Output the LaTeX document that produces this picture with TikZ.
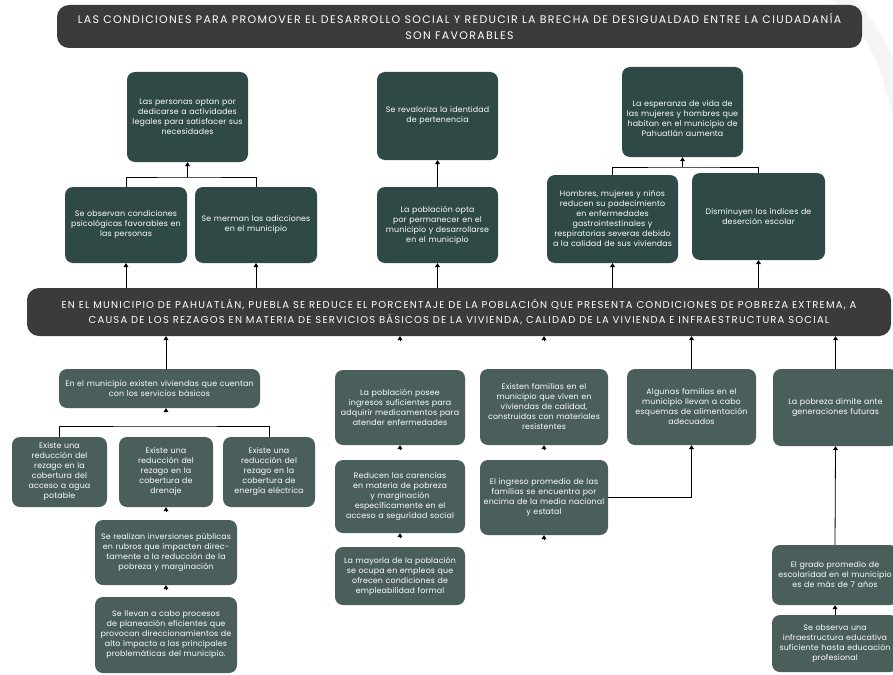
\documentclass[tikz,border=0pt]{standalone}
\usepackage{fontspec}
\setmainfont{Poppins}
\newfontfamily\banfont[LetterSpace=12]{Poppins}
\newfontfamily\boxfont[LetterSpace=1.5]{Poppins}
\usetikzlibrary{arrows.meta}
\definecolor{topteal}{HTML}{2E4946}
\definecolor{botteal}{HTML}{4A5E5C}
\definecolor{bancol}{HTML}{3A3B3A}
\tikzset{
  tb/.style={fill=topteal, rounded corners=8pt, text=white, align=center, inner xsep=1pt, inner ysep=3pt,
    font=\boxfont\fontsize{7.9}{10}\selectfont},
  bb/.style={tb, fill=botteal},
  ban/.style={fill=bancol, rounded corners=12pt, text=white, align=center, inner sep=0pt},
  arr/.style={draw=black, line width=0.8pt, -{Triangle[width=5pt,length=4pt]}},
  conn/.style={draw=black, line width=0.8pt},
}
\begin{document}
\begin{tikzpicture}[x=1pt,y=-1pt]
\useasboundingbox (0,0) rectangle (893,674);
\clip (0,0) rectangle (893,674);
\fill[white] (0,0) rectangle (893,674);
\draw[line width=16pt, black!4] (830,-12) .. controls (872,22) and (890,60) .. (902,125);

% banners
\node[ban, minimum width=805pt, minimum height=43pt, font=\banfont\fontsize{11}{16}\selectfont] (goal) at (459.5,26.5)
 {LAS CONDICIONES PARA PROMOVER EL DESARROLLO SOCIAL Y REDUCIR LA BRECHA DE DESIGUALDAD ENTRE LA CIUDADANÍA\\SON FAVORABLES};
\node[ban, minimum width=864pt, minimum height=48pt, font=\banfont\fontsize{10}{15.5}\selectfont] (banner) at (459,312)
 {EN EL MUNICIPIO DE PAHUATLÁN, PUEBLA SE REDUCE EL PORCENTAJE DE LA POBLACIÓN QUE PRESENTA CONDICIONES DE POBREZA EXTREMA, A\\CAUSA DE LOS REZAGOS EN MATERIA DE SERVICIOS BÁSICOS DE LA VIVIENDA, CALIDAD DE LA VIVIENDA E INFRAESTRUCTURA SOCIAL};

% top boxes
\node[tb, minimum width=121pt, minimum height=90pt, text width=119pt] (A1) at (187.5,117)
 {Las personas optan por\\dedicarse a actividades\\legales para satisfacer sus\\necesidades};
\node[tb, minimum width=122pt, minimum height=76pt, text width=120pt] (A2) at (126,225)
 {Se observan condiciones\\psicológicas favorables en\\las personas};
\node[tb, minimum width=122pt, minimum height=76pt, text width=120pt] (A3) at (256,225)
 {Se merman las adicciones\\en el municipio};
\node[tb, minimum width=121pt, minimum height=88pt, text width=119pt] (B1) at (437.5,116)
 {Se revaloriza la identidad\\de pertenencia};
\node[tb, minimum width=121pt, minimum height=76pt, text width=119pt] (B2) at (437.5,225)
 {La población opta\\por permanecer en el\\municipio y desarrollarse\\en el municipio};
\node[tb, minimum width=121pt, minimum height=90pt, text width=119pt] (C1) at (682.5,112)
 {\rule{0pt}{19pt}La esperanza de vida de\\las mujeres y hombres que\\habitan en el municipio de\\Pahuatlán aumenta};
\node[tb, minimum width=131pt, minimum height=88pt, text width=129pt] (C2) at (612.5,219)
 {Hombres, mujeres y niños\\reducen su padecimiento\\en enfermedades\\gastrointestinales y\\respiratorias severas debido\\a la calidad de sus viviendas};
\node[tb, minimum width=133pt, minimum height=87pt, text width=131pt] (C3) at (758.5,216.5)
 {Disminuyen los índices de\\deserción escolar};

% bottom boxes
\node[bb, minimum width=201pt, minimum height=39pt, text width=199pt] (D1) at (159.5,388.5)
 {En el municipio existen viviendas que cuentan\\con los servicios básicos};
\node[bb, minimum width=95pt, minimum height=70pt, text width=93pt] (D2) at (59.5,472)
 {Existe una\\reducción del\\rezago en la\\cobertura del\\acceso a agua\\potable};
\node[bb, minimum width=94pt, minimum height=70pt, text width=92pt] (D3) at (166,472)
 {Existe una\\reducción del\\rezago en la\\cobertura de\\drenaje};
\node[bb, minimum width=92pt, minimum height=70pt, text width=90pt] (D4) at (269,472)
 {Existe una\\reducción del\\rezago en la\\cobertura de\\energía eléctrica};
\node[bb, minimum width=142pt, minimum height=65pt, text width=140pt] (D5) at (166,552.5)
 {Se realizan inversiones públicas\\en rubros que impacten direc-\\tamente a la reducción de la\\pobreza y marginación};
\node[bb, minimum width=142pt, minimum height=76pt, text width=140pt] (D6) at (166,635)
 {Se llevan a cabo procesos\\de planeación eficientes que\\provocan direccionamientos de\\alto impacto a las principales\\problemáticas del municipio.};
\node[bb, minimum width=130pt, minimum height=75pt, text width=128pt] (E1) at (400,407.5)
 {La población posee\\ingresos suficientes para\\adquirir medicamentos para\\atender enfermedades};
\node[bb, minimum width=130pt, minimum height=73pt, text width=128pt] (E2) at (400,496.5)
 {Reducen las carencias\\en materia de pobreza\\y marginación\\específicamente en el\\acceso a seguridad social};
\node[bb, minimum width=130pt, minimum height=58pt, text width=128pt] (E3) at (400,576)
 {La mayoría de la población\\se ocupa en empleos que\\ofrecen condiciones de\\empleabilidad formal};
\node[bb, minimum width=128pt, minimum height=76pt, text width=126pt] (F1) at (544,407)
 {Existen familias en el\\municipio que viven en\\viviendas de calidad,\\construidas con materiales\\resistentes};
\node[bb, minimum width=128pt, minimum height=75pt, text width=126pt] (F2) at (544,497.5)
 {El ingreso promedio de las\\familias se encuentra por\\encima de la media nacional\\y estatal};
\node[bb, minimum width=129pt, minimum height=76pt, text width=127pt] (G1) at (691.5,407)
 {Algunas familias en el\\municipio llevan a cabo\\esquemas de alimentación\\adecuados};
\node[bb, minimum width=125pt, minimum height=77pt, text width=123pt] (H1) at (835.5,407.5)
 {La pobreza dimite ante\\generaciones futuras};
\node[bb, minimum width=126pt, minimum height=60pt, text width=124pt] (H2) at (835,575)
 {El grado promedio de\\escolaridad en el municipio\\es de más de 7 años};
\node[bb, minimum width=126pt, minimum height=57pt, text width=124pt] (H3) at (835,643.5)
 {Se observa una\\infraestructura educativa\\suficiente hasta educación\\profesional};

% top connectors
\coordinate (Abar) at (187.5,177);
\draw[conn] (A2.north) |- (Abar) -| (A3.north);
\draw[arr] (Abar) -- (A1.south);
\draw[arr] (banner.north -| A2.south) -- (A2.south);
\draw[arr] (banner.north -| A3.south) -- (A3.south);
\draw[arr] (B2.north) -- (B1.south);
\draw[arr] (banner.north -| B2.south) -- (B2.south);
\coordinate (Cbar) at (682.5,167);
\draw[conn] (C2.north) |- (Cbar) -| (C3.north);
\draw[arr] (Cbar) -- (C1.south);
\draw[arr] (banner.north -| C2.south) -- (C2.south);
\draw[arr] (banner.north -| C3.south) -- (C3.south);

% bottom connectors
\draw[arr] (D1.north -| D3.north) -- (banner.south -| D3.north);
\coordinate (Dbar) at (166,426);
\draw[conn] (D2.north) |- (Dbar) -| (D4.north);
\draw[arr, shorten <=14pt] (Dbar) -- (D1.south -| Dbar);
\draw[arr, shorten <=9pt] (D5.north) -- (D3.south);
\draw[arr, shorten <=8pt] (D6.north) -- (D5.south);
\draw[arr, shorten <=30pt] (E1.north) -- (banner.south -| E1.north);
\draw[arr, shorten <=11pt] (E2.north) -- (E1.south);
\draw[arr, shorten <=10pt] (E3.north) -- (E2.south);
\draw[arr, shorten <=29pt] (F1.north) -- (banner.south -| F1.north);
\draw[arr, shorten <=11pt] (F2.north) -- (F1.south);
\draw[arr] (F2.south) ++(0,4) -- (F2.south);
\draw[arr] (G1.north) -- (banner.south -| G1.north);
\draw[arr] (F2.east) -| (G1.south);
\draw[arr] (H1.north) -- (banner.south -| H1.north);
\draw[arr] (H2.north) -- (H1.south);
\draw[arr] (H3.north) -- (H2.south);
\end{tikzpicture}
\end{document}
